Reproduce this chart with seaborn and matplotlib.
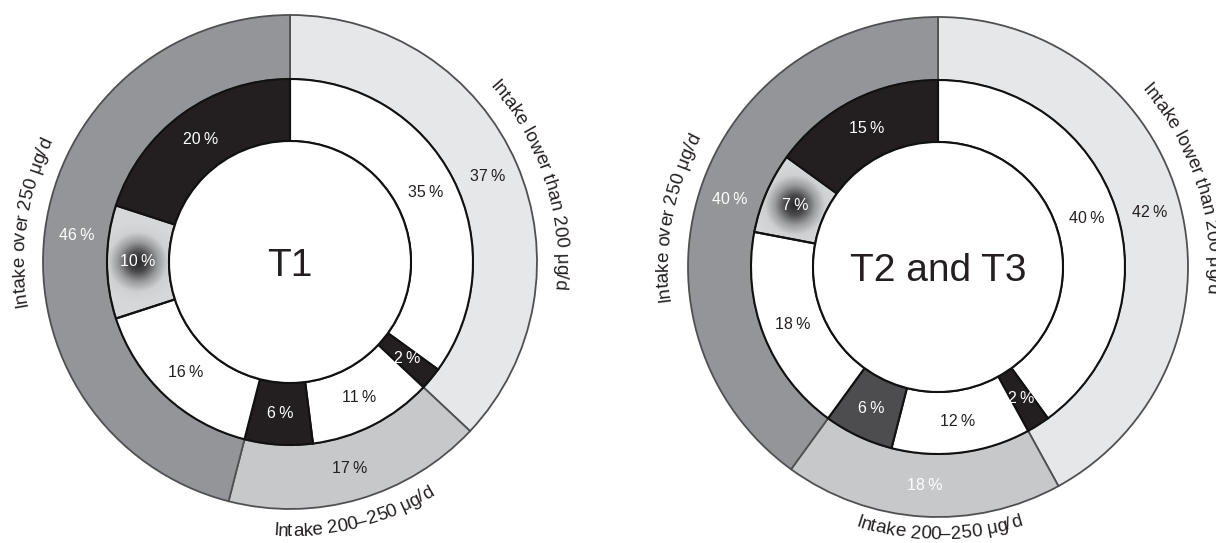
#!/usr/bin/env python3
# -*- coding: utf-8 -*-
"""Nested donut charts: iodine intake groups at T1 and at T2/T3"""

import numpy as np
import matplotlib
matplotlib.use('Agg')
import matplotlib.pyplot as plt
import seaborn as sns
from matplotlib.patches import Circle
from matplotlib.colors import LinearSegmentedColormap
from matplotlib.font_manager import FontProperties, findfont, get_font

# Data (percent of participants)
outer_labels = ['Intake lower than 200 μg/d', 'Intake 200–250 μg/d', 'Intake over 250 μg/d']
t1_outer = [37, 17, 46]
t1_inner = [35, 2, 11, 6, 16, 10, 20]
t23_outer = [42, 18, 40]
t23_inner = [40, 2, 12, 6, 18, 7, 15]
panel_titles = ['T1', 'T2 and T3']

# Colours
outer_colors = ['#e6e7e8', '#c7c8ca', '#939598']
t1_inner_colors = ['white', '#231f20', 'white', '#231f20', 'white', '#d1d3d4', '#231f20']
t23_inner_colors = ['white', '#231f20', 'white', '#4d4d4f', 'white', '#d1d3d4', '#231f20']
DARK = '#231f20'
t1_outer_txt = [DARK, DARK, 'white']
t23_outer_txt = [DARK, 'white', 'white']
t1_inner_txt = [DARK, 'white', DARK, 'white', DARK, 'white', 'white']
t23_inner_txt = [DARK, 'white', DARK, 'white', DARK, 'white', 'white']
GRADIENT_SLICE = 5  # inner slice drawn with a radial shading

W, H, DPI = 1216, 543, 100
FAMILY = 'Liberation Sans'

sns.set_style('white')
plt.rcParams['font.family'] = [FAMILY, 'DejaVu Sans']

fig = plt.figure(figsize=(W / DPI, H / DPI), dpi=DPI)
ax = fig.add_axes([0, 0, 1, 1])

shade_cmap = LinearSegmentedColormap.from_list('shade', ['#262628', '#4a4a4c', '#9a9b9d', '#cfd0d2', '#d6d7d9'])


def arc_text(ax, s, cx, cy, r, phi, outward=True, size=13.5):
    """Write s along a circle; phi = angle of the text centre, clockwise from north."""
    font = get_font(findfont(FontProperties(family=FAMILY)))
    font.set_size(size, DPI)
    glyphs = [font.load_char(ord(ch)) for ch in s]
    adv = np.array([g.linearHoriAdvance / 65536 for g in glyphs])
    bear = np.array([g.horiBearingX / 64 for g in glyphs])
    pen = np.cumsum(adv) - adv
    rb = r - 6 if outward else r + 6
    span = np.degrees(adv.sum() / rb)
    theta_c = 90 - phi
    for ch, p, b in zip(s, pen, bear):
        if ch == ' ':
            continue
        d = np.degrees((p + b) / rb) - span / 2
        if outward:
            th = theta_c - d
            rot = th - 90
        else:
            th = theta_c + d
            rot = th + 90
        ax.text(cx + rb * np.cos(np.radians(th)), cy + rb * np.sin(np.radians(th)), ch,
                rotation=rot, rotation_mode='anchor', ha='left', va='baseline',
                fontsize=size, color=DARK, zorder=5)


def label_wedges(ax, wedges, values, colors, cx, cy, r):
    for w, v, c in zip(wedges, values, colors):
        mid = np.radians((w.theta1 + w.theta2) / 2)
        ax.text(cx + r * np.cos(mid), cy + r * np.sin(mid), f'{v}\u2009%',
                ha='center', va='center', fontsize=11.5, color=c, zorder=6)


def draw_panel(ax, outer, inner, inner_colors, outer_txt, inner_txt, title,
               cx, cy, r_out, r_mid, r_hole, phis, outwards, text_r):
    ow, _ = ax.pie(outer, radius=r_out, center=(cx, cy), startangle=90, counterclock=False,
                   colors=outer_colors, frame=True,
                   wedgeprops=dict(width=r_out - r_mid, edgecolor='#505052', linewidth=1.3))
    iw, _ = ax.pie(inner, radius=r_mid, center=(cx, cy), startangle=90, counterclock=False,
                   colors=inner_colors, frame=True,
                   wedgeprops=dict(width=r_mid - r_hole, edgecolor='#111111', linewidth=1.5))
    ax.add_patch(Circle((cx, cy), r_hole, facecolor='white', edgecolor='#111111',
                        linewidth=1.5, zorder=3))

    # radial shading on one inner slice
    w = iw[GRADIENT_SLICE]
    mid = np.radians((w.theta1 + w.theta2) / 2)
    rm = (r_mid + r_hole) / 2
    gx, gy = cx + rm * np.cos(mid), cy + rm * np.sin(mid)
    xs = np.linspace(gx - 80, gx + 80, 220)
    ys = np.linspace(gy - 80, gy + 80, 220)
    xx, yy = np.meshgrid(xs, ys)
    dist = np.clip(np.hypot(xx - gx, yy - gy) / 40, 0, 1)
    w.set_facecolor('none')
    im = ax.imshow(dist, extent=[xs[0], xs[-1], ys[0], ys[-1]], origin='lower',
                   cmap=shade_cmap, vmin=0, vmax=1, zorder=0.5, interpolation='bilinear')
    im.set_clip_path(w)

    label_wedges(ax, ow, outer, outer_txt, cx, cy, (r_out + r_mid) / 2)
    label_wedges(ax, iw, inner, inner_txt, cx, cy, rm)

    for lab, phi, outw, tr in zip(outer_labels, phis, outwards, text_r):
        arc_text(ax, lab, cx, cy, tr, phi, outward=outw)

    ax.text(cx, cy - 4, title, ha='center', va='center', fontsize=28, color=DARK, zorder=6)


# Left panel (T1)
draw_panel(ax, t1_outer, t1_inner, t1_inner_colors, t1_outer_txt, t1_inner_txt, panel_titles[0],
           cx=290, cy=H - 262, r_out=247, r_mid=183, r_hole=121,
           phis=[72, 166, 278.5], outwards=[True, False, True], text_r=[272, 268, 272])

# Right panel (T2 and T3)
draw_panel(ax, t23_outer, t23_inner, t23_inner_colors, t23_outer_txt, t23_inner_txt, panel_titles[1],
           cx=938, cy=H - 267, r_out=250, r_mid=187, r_hole=125,
           phis=[72, 180, 280.5], outwards=[True, False, True], text_r=[276, 266, 276])

ax.set_xlim(0, W)
ax.set_ylim(0, H)
ax.set_aspect('auto')
ax.axis('off')

fig.savefig('out.png', dpi=DPI)
plt.close(fig)
print("Saved: out.png")
